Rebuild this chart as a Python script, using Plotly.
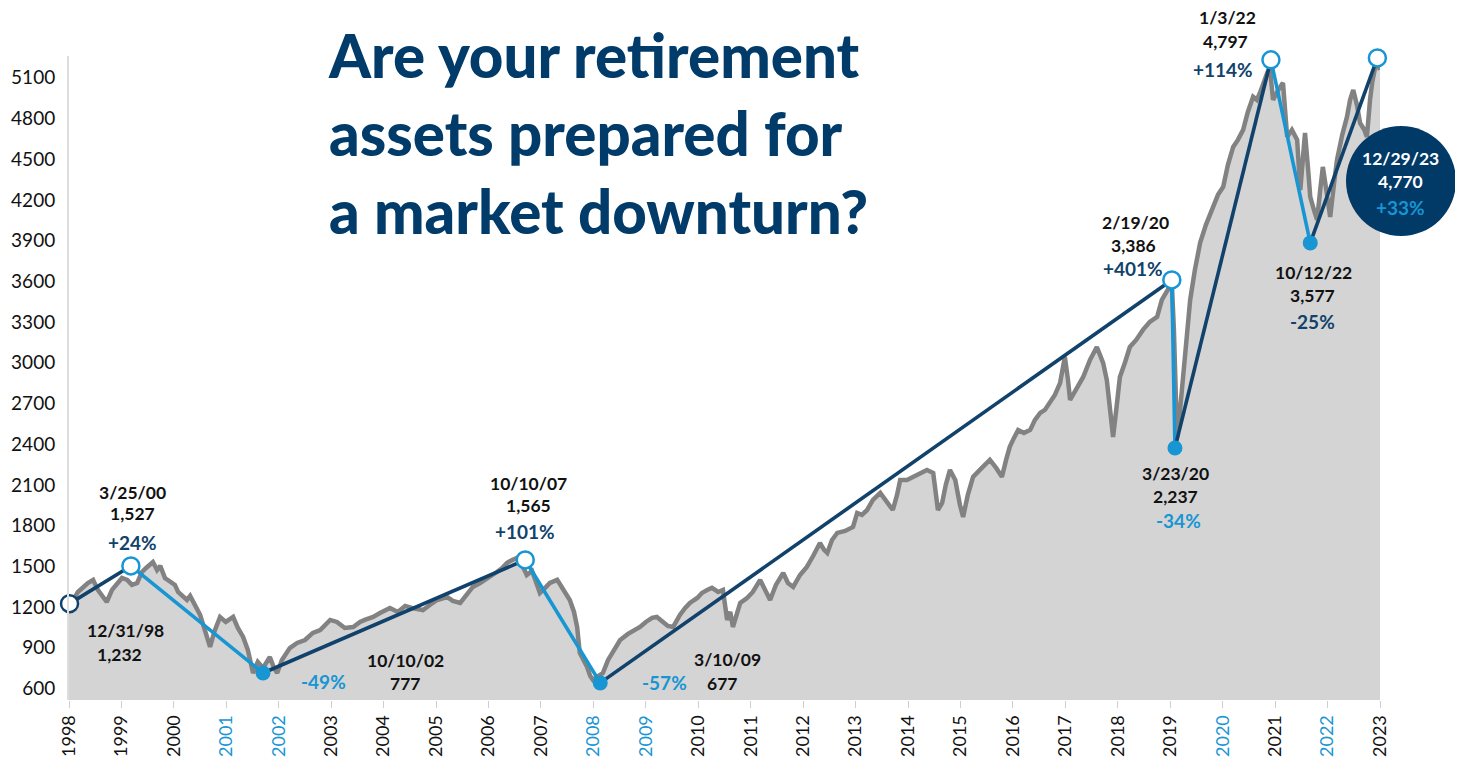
import plotly.graph_objects as go

# ---------------- data ----------------
# index level (as drawn on the chart's axis) vs axis-year position
idx_x = [1998.00,1998.08,1998.17,1998.27,1998.36,1998.46,1998.55,1998.65,1998.72,1998.82,1998.92,1999.01,1999.11,1999.20,1999.30,1999.39,1999.47,1999.54,1999.60,1999.68,1999.74,1999.83,1999.93,
         2000.02,2000.08,2000.17,2000.25,2000.31,2000.40,2000.50,2000.59,2000.69,2000.77,2000.88,2000.99,2001.13,2001.22,2001.32,2001.41,2001.51,2001.60,2001.70,2001.83,2001.91,2001.97,
         2002.06,2002.21,2002.35,2002.50,2002.65,2002.79,2002.88,2002.98,2003.11,2003.26,2003.42,2003.55,2003.64,2003.80,2003.93,2004.12,2004.27,2004.41,2004.54,2004.75,2004.88,
         2005.02,2005.21,2005.32,2005.46,2005.59,2005.70,2005.84,2006.03,2006.16,2006.26,2006.35,2006.45,2006.54,2006.64,2006.73,2006.83,2006.91,2006.98,2007.08,2007.17,2007.31,
         2007.42,2007.55,2007.63,2007.69,2007.74,2007.82,2007.88,2007.94,2007.99,2008.07,2008.18,2008.28,2008.39,2008.51,2008.66,2008.79,2008.89,2009.00,2009.12,2009.21,2009.33,
         2009.42,2009.52,2009.65,2009.75,2009.84,2009.98,2010.07,2010.17,2010.26,2010.38,2010.47,2010.55,2010.61,2010.66,2010.74,2010.80,2010.93,2011.04,2011.18,2011.27,2011.37,
         2011.48,2011.62,2011.71,2011.81,2011.94,2012.07,2012.19,2012.32,2012.40,2012.46,2012.55,2012.65,2012.80,2012.95,2013.03,2013.12,2013.22,2013.33,2013.47,2013.58,2013.71,
         2013.79,2013.85,2013.98,2014.10,2014.23,2014.36,2014.48,2014.53,2014.57,2014.65,2014.72,2014.80,2014.90,2014.99,2015.05,2015.14,2015.24,2015.37,2015.47,2015.56,2015.68,
         2015.79,2015.87,2015.94,2016.02,2016.10,2016.21,2016.33,2016.42,2016.52,2016.61,2016.71,2016.80,2016.90,2016.99,2017.05,2017.09,2017.20,2017.34,2017.47,2017.60,2017.66,
         2017.72,2017.79,2017.85,2017.91,2017.97,2018.04,2018.14,2018.23,2018.35,2018.48,2018.61,2018.75,2018.84,2018.92,2018.99,2019.03,2019.07,2019.11,2019.13,2019.17,2019.24,
         2019.32,2019.38,2019.47,2019.57,2019.68,2019.82,2019.91,2020.01,2020.10,2020.20,2020.29,2020.39,2020.48,2020.58,2020.65,2020.71,2020.79,2020.85,2020.90,2020.96,2021.06,
         2021.15,2021.19,2021.23,2021.32,2021.42,2021.48,2021.53,2021.57,2021.63,2021.67,2021.74,2021.80,2021.86,2021.91,2021.99,2022.05,2022.12,2022.18,2022.28,2022.37,2022.43,
         2022.49,2022.56,2022.62,2022.70,2022.75,2022.81,2022.85,2022.91,2022.96,2023.00]
idx_y = [1215,1252,1311,1348,1377,1400,1326,1274,1237,1326,1377,1414,1400,1363,1377,1458,1488,1510,1532,1473,1503,1414,1385,
         1363,1311,1274,1252,1282,1215,1142,1031,906,1016,1127,1090,1127,1046,980,884,714,795,751,832,751,714,
         810,898,935,957,1009,1031,1068,1105,1090,1046,1053,1090,1105,1127,1156,1193,1164,1208,1193,1178,1215,
         1252,1274,1245,1230,1296,1348,1377,1422,1458,1488,1525,1547,1562,1510,1436,1466,1385,1304,1341,1377,1400,
         1326,1252,1164,1053,862,810,758,692,663,685,714,810,884,957,1002,1031,1053,1090,1120,1127,1090,
         1061,1053,1142,1193,1230,1267,1304,1326,1341,1311,1326,1105,1164,1053,1149,1230,1267,1311,1400,1326,1252,
         1363,1451,1377,1348,1436,1495,1576,1672,1621,1598,1694,1746,1761,1790,1893,1879,1915,1989,2041,1989,1915,
         2026,2136,2136,2159,2181,2210,2188,2063,1915,1967,2100,2210,2136,1952,1864,2026,2159,2210,2247,2284,2225,
         2159,2284,2380,2446,2505,2483,2505,2579,2630,2652,2704,2763,2851,3043,2873,2726,2800,2895,3021,3116,3058,
         2999,2873,2652,2453,2652,2895,3006,3116,3168,3242,3301,3338,3463,3522,3573,3588,3242,2726,2453,2579,2851,
         3242,3463,3684,3883,4016,4148,4237,4296,4458,4590,4642,4716,4848,4959,4937,4988,5084,5136,5180,4937,5010,
         5062,4863,4664,4716,4642,4273,4495,4693,4421,4222,4126,4052,4273,4443,4237,4074,4310,4495,4679,4811,4937,
         5010,4900,4767,4716,4664,4937,5062,5180,5195,5158]

# turning points
event_dates = ["12/31/98", "3/25/00", "10/10/02", "10/10/07", "3/10/09",
               "2/19/20", "3/23/20", "1/3/22", "10/12/22", "12/29/23"]
event_labels = ["1,232", "1,527", "777", "1,565", "677",
                "3,386", "2,237", "4,797", "3,577", "4,770"]
event_changes = ["", "+24%", "-49%", "+101%", "-57%",
                 "+401%", "-34%", "+114%", "-25%", "+33%"]
event_x = [1998.01, 1999.18, 2001.70, 2006.70, 2008.13,
           2019.03, 2019.09, 2020.92, 2021.67, 2022.95]
event_y = [1225, 1503, 714, 1547, 641, 3610, 2372, 5232, 3883, 5246]
event_is_peak = [True, True, False, True, False, True, False, True, False, True]

years = list(range(1998, 2024))
highlight_years = [2001, 2002, 2008, 2009, 2020, 2022]
y_ticks = list(range(600, 5101, 300))

# ---------------- styles ----------------
NAVY = "#11426c"
TITLE_NAVY = "#003b69"
LBLUE = "#1895d3"
GRAY_LINE = "#828282"
GRAY_FILL = "#d4d4d4"
FONT = "Lato"

OFF = 8  # page body margin
W, H = 1463 - OFF, 761 - OFF
L, R, T, B = 69 - OFF, 83, 56 - OFF, 61
PW, PH = W - L - R, H - T - B


def px(xp, yp):
    """reference-screenshot pixel -> paper coordinates (for text/badge placement)"""
    return (xp - OFF - L) / PW, (H - B - (yp - OFF)) / PH


fig = go.Figure()

fig.add_trace(go.Scatter(
    x=idx_x, y=idx_y, mode="lines",
    line=dict(color=GRAY_LINE, width=4.5),
    fill="tozeroy", fillcolor=GRAY_FILL, hoverinfo="skip", showlegend=False))

# connecting segments
for i in range(len(event_x) - 1):
    rising = event_y[i + 1] > event_y[i]
    fig.add_trace(go.Scatter(
        x=[event_x[i], event_x[i + 1]], y=[event_y[i], event_y[i + 1]],
        mode="lines", line=dict(color=NAVY if rising else LBLUE, width=3.6),
        cliponaxis=False, showlegend=False, hoverinfo="skip"))

# markers
pk_x = [x for x, p in zip(event_x, event_is_peak) if p]
pk_y = [y for y, p in zip(event_y, event_is_peak) if p]
pk_lc = [NAVY if i == 0 else LBLUE for i in range(len(pk_x))]
fig.add_trace(go.Scatter(
    x=pk_x, y=pk_y, mode="markers", cliponaxis=False, showlegend=False,
    marker=dict(size=17, color="white", line=dict(color=pk_lc, width=2.5))))
tr_x = [x for x, p in zip(event_x, event_is_peak) if not p]
tr_y = [y for y, p in zip(event_y, event_is_peak) if not p]
fig.add_trace(go.Scatter(
    x=tr_x, y=tr_y, mode="markers", cliponaxis=False, showlegend=False,
    marker=dict(size=15, color=LBLUE, line=dict(width=0))))

# circle badge for the last point
cx, cy = px(1401, 181)
fig.add_shape(type="circle", xref="paper", yref="paper",
              xsizemode="pixel", ysizemode="pixel", xanchor=cx, yanchor=cy,
              x0=-55, x1=55, y0=-55, y1=55,
              fillcolor="#013a67", line=dict(width=0), layer="above")

annotations = []


def txt(s, xp, yp, size, color):
    x, y = px(xp, yp)
    annotations.append(dict(text=s, x=x, y=y, xref="paper", yref="paper",
                            xanchor="center", yanchor="middle", showarrow=False,
                            font=dict(family=FONT, size=size, color=color, weight="bold")))


label_pos = [
    ((125, 630), (119, 654), None),
    ((132, 492), (132, 514), (132, 542)),
    ((405, 660), (405, 683), (323, 681)),
    ((528, 483), (528, 505), (525, 531)),
    ((727, 659), (722, 683), (664, 682)),
    ((1135, 222), (1133, 246), (1133, 268)),
    ((1175, 473), (1175, 497), (1178, 520)),
    ((1227, 17), (1225, 42), (1223, 70)),
    ((1313, 272), (1312, 295), (1312, 322)),
    ((1400, 158), (1400, 181), (1400, 207)),
]
pct_colors = [None, NAVY, LBLUE, NAVY, LBLUE, NAVY, LBLUE, NAVY, NAVY, LBLUE]

for i, (dp, vp, cp) in enumerate(label_pos):
    col = "white" if i == len(label_pos) - 1 else "#111111"
    txt(event_dates[i], dp[0], dp[1], 17.5, col)
    txt(event_labels[i], vp[0], vp[1], 17.5, col)
    if cp is not None and event_changes[i]:
        txt(event_changes[i], cp[0], cp[1], 19, pct_colors[i])

# title
tx, ty = px(326, 17)
annotations.append(dict(
    text="Are your retirement<br>assets prepared for<br>a market downturn?",
    x=tx, y=ty, xref="paper", yref="paper", xanchor="left", yanchor="top",
    align="left", showarrow=False,
    font=dict(family=FONT, size=60, color=TITLE_NAVY, weight=900)))

ticktext = [f'<span style="color:{LBLUE}">{y}</span>' if y in highlight_years else str(y)
            for y in years]

fig.update_layout(
    width=W, height=H,
    margin=dict(l=L, r=R, t=T, b=B, pad=0),
    paper_bgcolor="white", plot_bgcolor="white",
    showlegend=False,
    annotations=annotations,
    xaxis=dict(range=[1998, 2023], tickmode="array", tickvals=years, ticktext=ticktext,
               tickangle=-90, ticks="outside", ticklen=7, tickcolor="#cfcfcf", tickwidth=1,
               showgrid=False, zeroline=False, showline=False, automargin=False,
               tickfont=dict(family=FONT, size=18, color="#111111")),
    yaxis=dict(range=[515, 5260], tickmode="array", tickvals=y_ticks,
               showgrid=False, zeroline=False, showline=True, linecolor="#dddddd", linewidth=2,
               ticks="", ticklabelstandoff=8, automargin=False,
               tickfont=dict(family=FONT, size=19, color="#111111")),
)

fig.write_html("out.html")
